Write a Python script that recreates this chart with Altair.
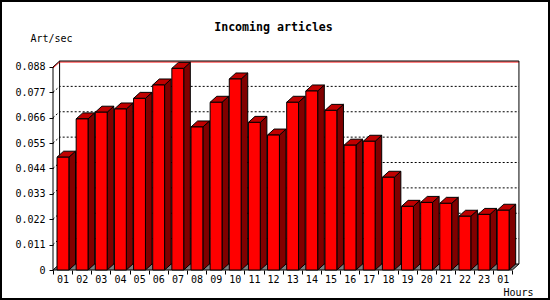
import altair as alt
import pandas as pd

# ---- data ----
HOURS = ["01", "02", "03", "04", "05", "06", "07", "08", "09", "10", "11", "12",
         "13", "14", "15", "16", "17", "18", "19", "20", "21", "22", "23", "01"]
RATES = [0.0489, 0.0655, 0.0684, 0.0698, 0.0744, 0.0802, 0.0874, 0.0620,
         0.0727, 0.0828, 0.0640, 0.0585, 0.0727, 0.0776, 0.0692, 0.0541,
         0.0558, 0.0402, 0.0276, 0.0293, 0.0289, 0.0233, 0.0241, 0.0259]
Y_TICKS = [0, 0.011, 0.022, 0.033, 0.044, 0.055, 0.066, 0.077, 0.088]
TITLE = "Incoming articles"
Y_TITLE = "Art/sec"
X_TITLE = "Hours"

# ---- style / geometry constants (in scale units) ----
N = len(HOURS)
W, H = 467, 209
XMAX = 24.40
YMAX = 0.0906
YT = Y_TICKS[-1]
DX = 0.345       # 3D depth, horizontal
DY = 0.0026      # 3D depth, vertical
F0 = 0.21        # front face start inside category
FW = 0.62        # front face width
RED_OFF = 0.00043
FONT = "DejaVu Sans Mono"

xs = alt.Scale(domain=[0, XMAX], nice=False, zero=False)
ys = alt.Scale(domain=[0, YMAX], nice=False, zero=False)

arr = "[" + ",".join("'" + h + "'" for h in HOURS) + "]"
label_expr = "datum.value % 1 != 0 ? " + arr + "[floor(datum.value)] : ''"
x_axis = alt.Axis(
    values=[float(i) for i in range(N + 1)] + [i + 0.5 for i in range(N)],
    title=X_TITLE, domain=False, grid=False, tickSize=4,
    tickColor={"condition": {"test": "datum.value % 1 != 0", "value": "transparent"}, "value": "black"},
    labelExpr=label_expr,
    labelFont=FONT, labelFontSize=10, labelColor="black", labelPadding=0,
    labelOverlap=False, labelFlush=False, labelBound=False,
    titleFont=FONT, titleFontSize=10, titleFontWeight="normal", titleColor="black",
    titleAnchor="end", titleAlign="right", titleBaseline="alphabetic",
    titleX=480, titleY=25,
)
y_axis = alt.Axis(
    values=Y_TICKS, format=".3~f", domain=False, grid=False, tickSize=4,
    tickColor="black", labelFont=FONT, labelFontSize=10, labelColor="black",
    labelPadding=4, labelOverlap=False, labelFlush=False,
    title=Y_TITLE, titleAngle=0, titleAlign="left", titleBaseline="alphabetic",
    titleX=-23, titleY=-20, titleFont=FONT, titleFontSize=10,
    titleFontWeight="normal", titleColor="black",
)


def X(field="x"):
    return alt.X(field + ":Q", scale=xs, axis=x_axis)


def Y(field="y"):
    return alt.Y(field + ":Q", scale=ys, axis=y_axis)


# floor
floor_df = pd.DataFrame({"y": [0, DY], "x": [0, DX], "x2": [N, N + DX]})
floor = alt.Chart(floor_df).mark_area(orient="horizontal", fill="#808080",
                                      stroke="black", strokeWidth=1).encode(
    y=Y(), x=X(), x2="x2:Q")

# back wall left edge
wall_df = pd.DataFrame({"x": [DX, DX], "y": [DY, YT + DY], "o": [0, 1]})
wall = alt.Chart(wall_df).mark_line(color="black", strokeWidth=1).encode(
    x=X(), y=Y(), order="o:Q")

# gridlines
g_rows = []
for v in Y_TICKS[1:-1]:
    g_rows += [{"g": v, "o": 0, "x": 0, "y": v},
               {"g": v, "o": 1, "x": DX, "y": v + DY},
               {"g": v, "o": 2, "x": N + DX, "y": v + DY}]
grid = alt.Chart(pd.DataFrame(g_rows)).mark_line(
    color="black", strokeWidth=1, strokeDash=[2, 2]).encode(
    x=X(), y=Y(), detail="g:N", order="o:Q")

# red top line
red_df = pd.DataFrame({"x": [0, DX, N + DX],
                       "y": [YT - RED_OFF, YT + DY - RED_OFF, YT + DY - RED_OFF],
                       "o": [0, 1, 2]})
red = alt.Chart(red_df).mark_line(color="#ff0000", strokeWidth=1).encode(
    x=X(), y=Y(), order="o:Q")

# outline: front axis, top, right wall edge
out_df = pd.DataFrame({"x": [0, 0, DX, N + DX, N + DX],
                       "y": [0, YT, YT + DY, YT + DY, DY], "o": [0, 1, 2, 3, 4]})
outline = alt.Chart(out_df).mark_line(color="black", strokeWidth=1).encode(
    x=X(), y=Y(), order="o:Q")

# bars
side_rows, top_rows, front_rows = [], [], []
for i, v in enumerate(RATES):
    side_rows += [{"bar": i, "x": i + F0 + FW, "y": v, "y2": 0},
                  {"bar": i, "x": i + F0 + FW + DX, "y": v + DY, "y2": DY}]
    top_rows += [{"bar": i, "y": v, "x": i + F0, "x2": i + F0 + FW},
                 {"bar": i, "y": v + DY, "x": i + F0 + DX, "x2": i + F0 + FW + DX}]
    front_rows.append({"bar": i, "x": i + F0, "x2": i + F0 + FW, "y": 0, "y2": v})

sides = alt.Chart(pd.DataFrame(side_rows)).mark_area(
    fill="#800000", stroke="black", strokeWidth=1).encode(
    x=X(), y=Y(), y2="y2:Q", detail="bar:N")
tops = alt.Chart(pd.DataFrame(top_rows)).mark_area(
    orient="horizontal", fill="#c00000", stroke="black", strokeWidth=1).encode(
    y=Y(), x=X(), x2="x2:Q", detail="bar:N")
fronts = alt.Chart(pd.DataFrame(front_rows)).mark_rect(
    fill="#ff0000", stroke="black", strokeWidth=1).encode(
    x=X(), x2="x2:Q", y=Y(), y2="y2:Q")

# outer frame of the picture (decoration)
frame = alt.Chart(pd.DataFrame({"a": [0]})).mark_rect(
    fill="transparent", stroke="black", strokeWidth=2).encode(
    x=alt.value(-52), x2=alt.value(496), y=alt.value(-60), y2=alt.value(238))

chart = alt.layer(floor, wall, grid, red, outline, sides, tops, fronts, frame).properties(
    width=W, height=H,
    background="white",
    title=alt.TitleParams(TITLE, font=FONT, fontSize=11.6, fontWeight="bold",
                          color="black", anchor="middle", frame="group", dx=-13,
                          dy=45, baseline="alphabetic", offset=2),
    autosize=alt.AutoSizeParams(type="none"),
    padding={"left": 53, "top": 61, "right": 30, "bottom": 30},
).configure_view(stroke=None)

chart.save("out.html", embed_options={"renderer": "svg", "actions": False})
